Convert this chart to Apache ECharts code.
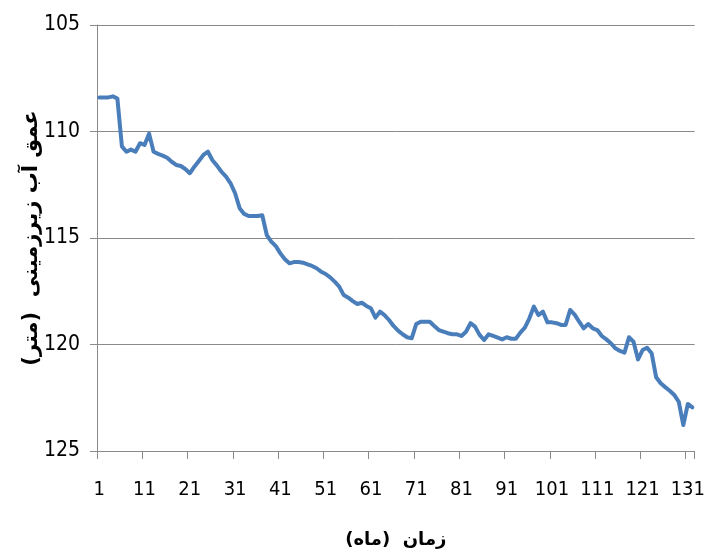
<!DOCTYPE html>
<html>
<head>
<meta charset="utf-8">
<script src="https://cdn.jsdelivr.net/npm/echarts@6/dist/echarts.min.js"></script>
<style>
  html, body { margin: 0; padding: 0; background: #fff; }
  #chart { width: 708px; height: 558px; }
</style>
</head>
<body>
<div id="chart"></div>
<script>
// Monthly groundwater depth (m below surface), months 1..132
const months = Array.from({ length: 132 }, (_, i) => String(i + 1));

const depth = [
  108.4, 108.4, 108.4, 108.35, 108.45, 110.7, 110.95, 110.85, 110.95, 110.55,
  110.63, 110.1, 110.95, 111.05, 111.13, 111.23, 111.42, 111.57, 111.62, 111.76,
  111.96, 111.65, 111.38, 111.1, 110.95, 111.35, 111.6, 111.89, 112.12, 112.43,
  112.9, 113.6, 113.87, 113.97, 113.97, 113.97, 113.93, 114.86, 115.17, 115.38,
  115.72, 116.0, 116.19, 116.13, 116.13, 116.16, 116.24, 116.31, 116.42, 116.58,
  116.69, 116.85, 117.05, 117.28, 117.68, 117.8, 117.96, 118.1, 118.04, 118.19,
  118.3, 118.74, 118.46, 118.62, 118.85, 119.13, 119.35, 119.52, 119.66, 119.71,
  119.04, 118.93, 118.93, 118.93, 119.13, 119.32, 119.4, 119.47, 119.52, 119.52,
  119.6, 119.4, 119.0, 119.16, 119.55, 119.79, 119.52, 119.6, 119.68, 119.76,
  119.66, 119.73, 119.73, 119.44, 119.21, 118.77, 118.22, 118.62, 118.46, 118.96,
  118.96, 119.0, 119.08, 119.08, 118.38, 118.6, 118.93, 119.24, 119.04, 119.24,
  119.32, 119.6, 119.76, 119.94, 120.18, 120.3, 120.38, 119.66, 119.87, 120.7,
  120.26, 120.15, 120.41, 121.54, 121.82, 122.0, 122.17, 122.37, 122.69, 123.78,
  122.79, 122.95
];

const yMin = 105;
const yMax = 125;
const yStep = 5;

const xTitle = 'زمان  (ماه)';
const yTitle = 'عمق آب زیرزمینی  (متر)';

const numFont = '"DejaVu Sans Condensed", "Liberation Sans", sans-serif';
const faFont = '"DejaVu Sans", "Noto Sans", sans-serif';
const gridGray = '#8a8a8a';

const chart = echarts.init(document.getElementById('chart'), null, { renderer: 'canvas' });

chart.setOption({
  animation: false,
  backgroundColor: '#ffffff',
  grid: { left: 97, right: 10, top: 25, bottom: 107, containLabel: false },
  xAxis: {
    type: 'category',
    data: months,
    boundaryGap: true,
    name: xTitle,
    nameLocation: 'middle',
    nameGap: 80,
    nameMoveOverlap: false,
    nameTextStyle: { fontFamily: faFont, fontSize: 18, fontWeight: 'bold', color: '#000' },
    axisLine: { show: true, lineStyle: { color: gridGray, width: 1 } },
    axisTick: { show: true, interval: 9, length: 8, lineStyle: { color: gridGray } },
    axisLabel: {
      interval: 9,
      margin: 29,
      fontFamily: numFont,
      fontSize: 20,
      color: '#000'
    },
    splitLine: { show: false }
  },
  yAxis: {
    type: 'value',
    inverse: true,
    min: yMin,
    max: yMax,
    interval: yStep,
    name: yTitle,
    nameLocation: 'middle',
    nameRotate: 90,
    nameGap: 55,
    nameMoveOverlap: false,
    nameTextStyle: { fontFamily: faFont, fontSize: 21, fontWeight: 'bold', color: '#000' },
    axisLine: { show: true, lineStyle: { color: gridGray, width: 1 } },
    axisTick: { show: true, length: 7, lineStyle: { color: gridGray } },
    axisLabel: {
      margin: 17,
      fontFamily: numFont,
      fontSize: 21,
      color: '#000'
    },
    splitLine: { show: true, lineStyle: { color: gridGray, width: 1 } }
  },
  series: [{
    type: 'line',
    data: depth,
    symbol: 'none',
    smooth: false,
    lineStyle: { color: '#4A7EBB', width: 4, join: 'round', cap: 'round' },
    itemStyle: { color: '#4A7EBB' }
  }]
});
</script>
</body>
</html>
